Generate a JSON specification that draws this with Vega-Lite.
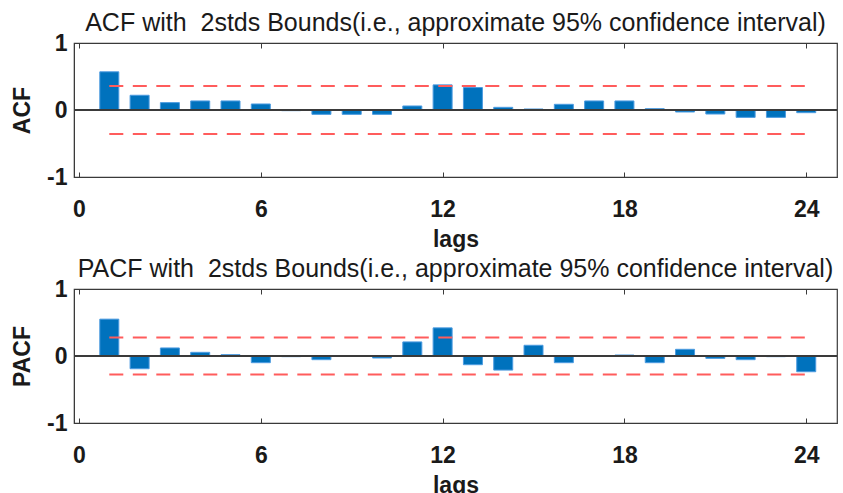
{
  "$schema": "https://vega.github.io/schema/vega-lite/v6.json",
  "background": "white",
  "padding": {"left": 10, "top": 10, "right": 0, "bottom": 0},
  "config": {
    "font": "Liberation Sans",
    "view": {"stroke": "#3a3a3a", "strokeWidth": 1.2},
    "axis": {
      "grid": false,
      "domainColor": "#3a3a3a",
      "tickColor": "#3a3a3a",
      "tickSize": -5,
      "labelFont": "Liberation Sans",
      "labelFontSize": 23,
      "labelFontWeight": "bold",
      "labelColor": "#1a1a1a",
      "titleFont": "Liberation Sans",
      "titleFontSize": 23,
      "titleFontWeight": "bold",
      "titleColor": "#1a1a1a"
    },
    "title": {"font": "Liberation Sans", "fontSize": 25, "fontWeight": "normal", "color": "#1a1a1a", "offset": -4}
  },
  "datasets": {
    "acf": [
      {"lag": 1, "value": 0.57}, {"lag": 2, "value": 0.22}, {"lag": 3, "value": 0.11}, {"lag": 4, "value": 0.135},
      {"lag": 5, "value": 0.135}, {"lag": 6, "value": 0.09}, {"lag": 7, "value": -0.01}, {"lag": 8, "value": -0.065},
      {"lag": 9, "value": -0.065}, {"lag": 10, "value": -0.065}, {"lag": 11, "value": 0.06}, {"lag": 12, "value": 0.375},
      {"lag": 13, "value": 0.335}, {"lag": 14, "value": 0.04}, {"lag": 15, "value": 0.015}, {"lag": 16, "value": 0.085},
      {"lag": 17, "value": 0.135}, {"lag": 18, "value": 0.135}, {"lag": 19, "value": 0.02}, {"lag": 20, "value": -0.03},
      {"lag": 21, "value": -0.06}, {"lag": 22, "value": -0.11}, {"lag": 23, "value": -0.11}, {"lag": 24, "value": -0.04}
    ],
    "pacf": [
      {"lag": 1, "value": 0.55}, {"lag": 2, "value": -0.19}, {"lag": 3, "value": 0.12}, {"lag": 4, "value": 0.055},
      {"lag": 5, "value": 0.02}, {"lag": 6, "value": -0.1}, {"lag": 7, "value": -0.01}, {"lag": 8, "value": -0.055},
      {"lag": 9, "value": 0.0}, {"lag": 10, "value": -0.03}, {"lag": 11, "value": 0.21}, {"lag": 12, "value": 0.42},
      {"lag": 13, "value": -0.13}, {"lag": 14, "value": -0.21}, {"lag": 15, "value": 0.16}, {"lag": 16, "value": -0.1},
      {"lag": 17, "value": 0.0}, {"lag": 18, "value": 0.015}, {"lag": 19, "value": -0.1}, {"lag": 20, "value": 0.1},
      {"lag": 21, "value": -0.035}, {"lag": 22, "value": -0.055}, {"lag": 23, "value": -0.01}, {"lag": 24, "value": -0.235}
    ],
    "acfBounds": [{"from": 1, "to": 24, "bound": 0.36}, {"from": 1, "to": 24, "bound": -0.36}],
    "pacfBounds": [{"from": 1, "to": 24, "bound": 0.275}, {"from": 1, "to": 24, "bound": -0.275}]
  },
  "bounds": "flush",
  "spacing": 112,
  "vconcat": [
    {
      "width": 763,
      "height": 134,
      "title": {"text": "ACF with\u00a0 2stds Bounds(i.e., approximate 95% confidence interval)"},
      "resolve": {"axis": {"x": "independent"}},
      "layer": [
        {
          "data": {"name": "acf"},
          "mark": {"type": "bar", "size": 19, "color": "#0072BD", "stroke": "#4c9be0", "strokeWidth": 1},
          "encoding": {
            "x": {"field": "lag", "type": "quantitative", "scale": {"domain": [0, 24.85], "nice": false, "zero": false},
                  "axis": {"values": [0, 6, 12, 18, 24], "title": "lags", "labelPadding": 26, "titlePadding": 7, "format": "d"}},
            "y": {"field": "value", "type": "quantitative", "scale": {"domain": [-1, 1], "nice": false},
                  "axis": {"values": [-1, 0, 1], "title": "ACF", "labelPadding": 12, "titlePadding": 12, "labelExpr": "'' + datum.value"}}
          }
        },
        {
          "data": {"name": "acf"},
          "mark": {"type": "rule", "color": "#3a3a3a", "strokeWidth": 1.2},
          "encoding": {"y": {"datum": 0}}
        },
        {
          "data": {"name": "acfBounds"},
          "mark": {"type": "rule", "color": "#ff5c5c", "strokeDash": [14, 9.5], "strokeWidth": 2},
          "encoding": {
            "x": {"field": "from", "type": "quantitative", "axis": {"orient": "top", "values": [0, 6, 12, 18, 24], "labels": false, "domain": false, "title": null}},
            "x2": {"field": "to"},
            "y": {"field": "bound", "type": "quantitative"}
          }
        }
      ]
    },
    {
      "width": 763,
      "height": 134,
      "title": {"text": "PACF with\u00a0 2stds Bounds(i.e., approximate 95% confidence interval)"},
      "resolve": {"axis": {"x": "independent"}},
      "layer": [
        {
          "data": {"name": "pacf"},
          "mark": {"type": "bar", "size": 19, "color": "#0072BD", "stroke": "#4c9be0", "strokeWidth": 1},
          "encoding": {
            "x": {"field": "lag", "type": "quantitative", "scale": {"domain": [0, 24.85], "nice": false, "zero": false},
                  "axis": {"values": [0, 6, 12, 18, 24], "title": "lags", "labelPadding": 26, "titlePadding": 7, "format": "d"}},
            "y": {"field": "value", "type": "quantitative", "scale": {"domain": [-1, 1], "nice": false},
                  "axis": {"values": [-1, 0, 1], "title": "PACF", "labelPadding": 12, "titlePadding": 12, "labelExpr": "'' + datum.value"}}
          }
        },
        {
          "data": {"name": "pacf"},
          "mark": {"type": "rule", "color": "#3a3a3a", "strokeWidth": 1.2},
          "encoding": {"y": {"datum": 0}}
        },
        {
          "data": {"name": "pacfBounds"},
          "mark": {"type": "rule", "color": "#ff5c5c", "strokeDash": [14, 9.5], "strokeWidth": 2},
          "encoding": {
            "x": {"field": "from", "type": "quantitative", "axis": {"orient": "top", "values": [0, 6, 12, 18, 24], "labels": false, "domain": false, "title": null}},
            "x2": {"field": "to"},
            "y": {"field": "bound", "type": "quantitative"}
          }
        }
      ]
    }
  ]
}
